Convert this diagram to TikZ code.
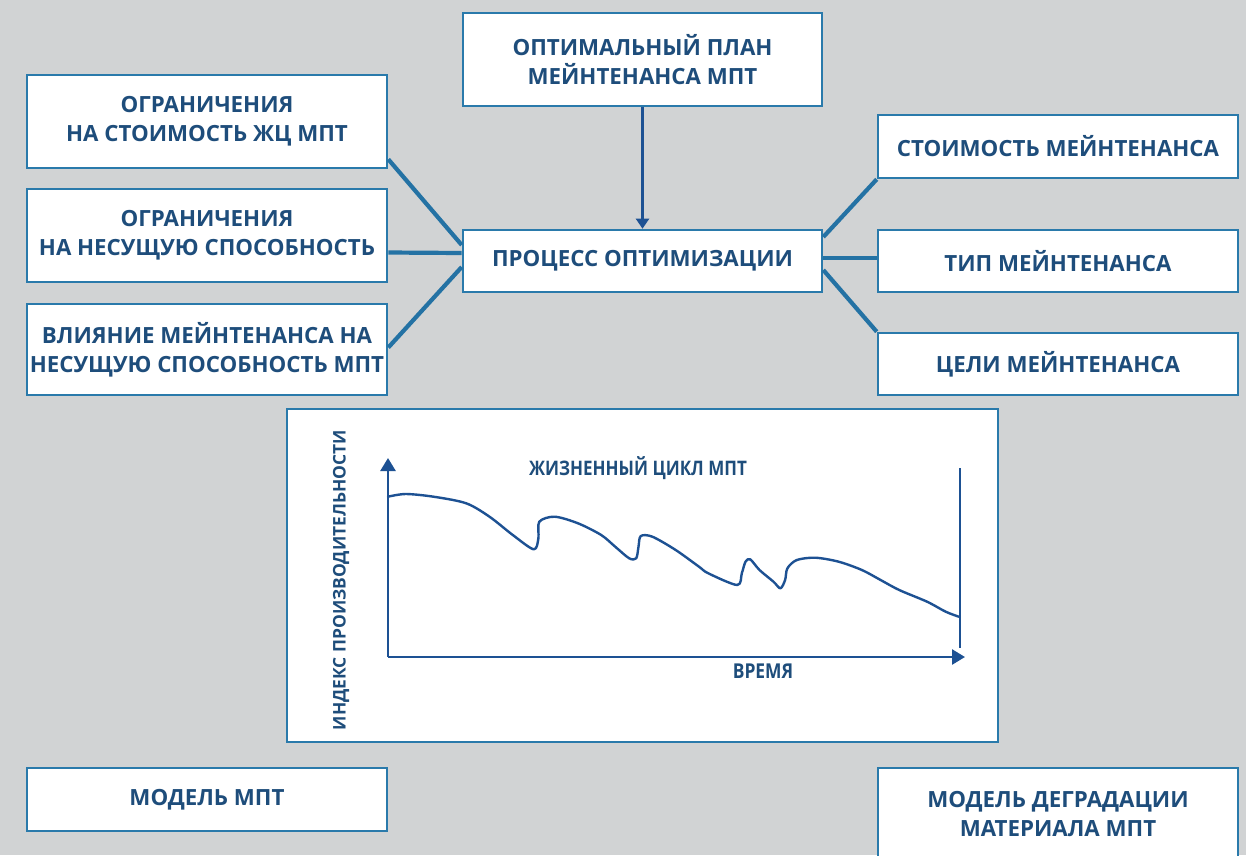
\documentclass[tikz,border=0pt]{standalone}
\usepackage{fontspec}
\setmainfont{Open Sans}
\newfontfamily\condfont[FakeStretch=0.85]{Open Sans}
\usetikzlibrary{arrows.meta}
\definecolor{bg}{HTML}{D1D3D4}
\definecolor{frame}{HTML}{2A7AAB}
\definecolor{txt}{HTML}{1E4D7B}
\definecolor{link}{HTML}{2472A4}
\definecolor{chartc}{HTML}{1D5193}
\tikzset{
  box/.style={draw=frame, line width=2.6pt, fill=white, minimum width=360pt, inner sep=0pt,
    align=center, text=txt, font=\fontsize{22.3}{29}\selectfont\bfseries},
  conn/.style={draw=link, line width=4.2pt},
  axisline/.style={draw=chartc, line width=2.6pt},
  curve/.style={draw=chartc, line width=2.4pt, line join=round, line cap=round},
}
\begin{document}
\begin{tikzpicture}[x=1pt,y=-1pt]
\useasboundingbox (0,0) rectangle (1246,855);
\clip (0,0) rectangle (1246,855);
\fill[bg] (0,0) rectangle (1246,855);

\node[box, minimum height=93pt, minimum width=359pt] (top) at (642.5,59.5) {ОПТИМАЛЬНЫЙ ПЛАН\\МЕЙНТЕНАНСА МПТ};
\node[box, minimum height=93pt] (l1) at (207,121.5) {ОГРАНИЧЕНИЯ\\НА СТОИМОСТЬ ЖЦ МПТ};
\node[box, minimum height=93pt] (l2) at (207,235.5) {ОГРАНИЧЕНИЯ\\НА НЕСУЩУЮ СПОСОБНОСТЬ};
\node[box, minimum height=91pt] (l3) at (207,349.5) {ВЛИЯНИЕ МЕЙНТЕНАНСА НА\\НЕСУЩУЮ СПОСОБНОСТЬ МПТ};
\node[box, minimum height=62pt, minimum width=359pt] (c) at (642.5,261) {ПРОЦЕСС ОПТИМИЗАЦИИ};
\node[box, minimum height=63pt] (r1) at (1058,146.5) {СТОИМОСТЬ МЕЙНТЕНАНСА};
\node[box, minimum height=62pt] (r2) at (1058,261) {ТИП МЕЙНТЕНАНСА};
\node[box, minimum height=62pt] (r3) at (1058,364) {ЦЕЛИ МЕЙНТЕНАНСА};
\node[box, minimum height=333pt, minimum width=711pt] (chart) at (642.5,575.5) {};
\node[box, minimum height=63pt] (bl) at (207,799.5) {МОДЕЛЬ МПТ};
\node[box, minimum height=92pt] (br) at (1058,814) {МОДЕЛЬ ДЕГРАДАЦИИ\\МАТЕРИАЛА МПТ};

% connectors
\draw[conn] ([yshift=10pt]l1.south east) -- ([yshift=16pt]c.west);
\draw[conn] ([yshift=-17pt]l2.east) -- ([yshift=8pt]c.west);
\draw[conn] ([yshift=2pt]l3.east) -- ([yshift=-6pt]c.west);
\draw[conn] ([yshift=24pt]c.east) -- (r1.south west);
\draw[conn] ([yshift=3pt]c.east) -- ([yshift=3pt]r2.west);
\draw[conn] ([yshift=-9pt]c.east) -- (r3.north west);
\draw[draw=chartc, line width=2.2pt, -{Triangle[width=13pt,length=10pt]}] (top.south) -- (c.north);

% chart
\coordinate (o) at (388,657);
\coordinate (ytop) at (388,458);
\coordinate (xend) at (965,657);
\coordinate (vt) at (960,468);
\coordinate (vb) at (960,648);
\draw[axisline, -{Triangle[width=15pt,length=13pt]}] (o) -- (ytop);
\draw[axisline, -{Triangle[width=15pt,length=13pt]}] (o) -- (xend);
\draw[draw=chartc, line width=2.2pt] (vt) -- (vb);
\draw[curve] plot[smooth, tension=0.5] coordinates {
(388,496.7) (405.7,494) (433.6,496.7) (466.2,503.3) (489.5,516.7) (512.8,535)
(533.7,549.3) (538.4,538.3) (539.3,521.7) (554.7,516.7) (578,523.3) (601.2,535)
(615.2,546.7) (629.2,558.3) (636.2,558.3) (638.5,546.7) (640.8,536) (652.4,536.7)
(675.7,550) (699,566.7) (708.3,573.3) (737.2,585) (741.8,573.3) (745.5,561.7)
(750.2,559.3) (759.5,570) (773.5,581.7) (780.4,588.3) (785.1,580) (787.4,568.3)
(796.8,560) (815.4,557.7) (838.7,561.7) (861.9,570) (880.6,580) (899.2,590)
(927.1,601.7) (945.7,611.7) (958.8,616.7)};
\node[text=txt, font=\condfont\fontsize{20}{22}\selectfont\bfseries] (title) at (638,468) {ЖИЗНЕННЫЙ ЦИКЛ МПТ};
\node[text=txt, font=\condfont\fontsize{20.5}{22}\selectfont\bfseries] (xl) at (763,671) {ВРЕМЯ};
\node[text=txt, rotate=90, font=\fontsize{17.4}{18}\selectfont\bfseries] (yl) at (341,580) {ИНДЕКС ПРОИЗВОДИТЕЛЬНОСТИ};
\end{tikzpicture}
\end{document}
